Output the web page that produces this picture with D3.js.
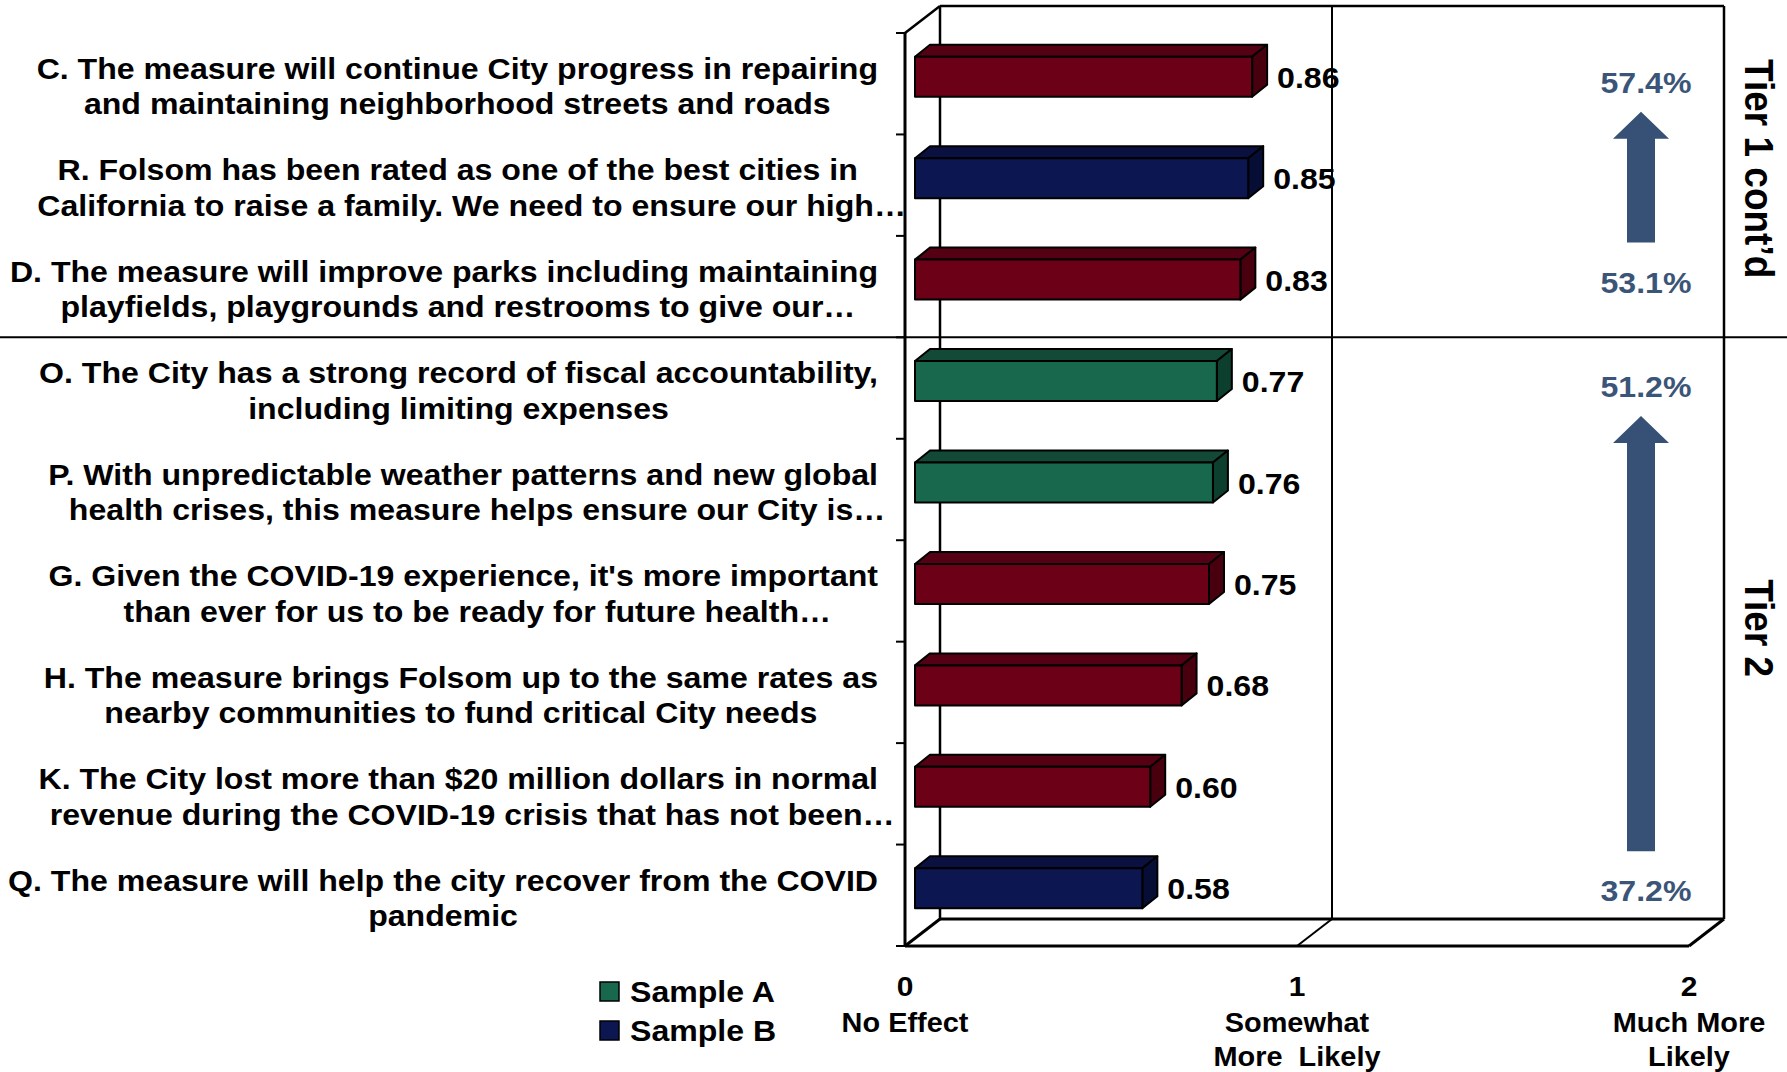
<!DOCTYPE html>
<html><head><meta charset="utf-8">
<script src="https://cdn.jsdelivr.net/npm/d3@7"></script>
<style>html,body{margin:0;padding:0;background:#fff;}svg{display:block;}</style>
</head><body>
<script>
// ---------- DATA ----------
const categories = ["C","R","D","O","P","G","H","K","Q"];
const labelLines = [
  ["C. The measure will continue City progress in repairing","and maintaining neighborhood streets and roads"],
  ["R. Folsom has been rated as one of the best cities in","California to raise a family. We need to ensure our high…"],
  ["D. The measure will improve parks including maintaining","playfields, playgrounds and restrooms to give our…"],
  ["O. The City has a strong record of fiscal accountability,","including limiting expenses"],
  ["P. With unpredictable weather patterns and new global","health crises, this measure helps ensure our City is…"],
  ["G. Given the COVID-19 experience, it's more important","than ever for us to be ready for future health…"],
  ["H. The measure brings Folsom up to the same rates as","nearby communities to fund critical City needs"],
  ["K. The City lost more than $20 million dollars in normal","revenue during the COVID-19 crisis that has not been…"],
  ["Q. The measure will help the city recover from the COVID","pandemic"]
];
const values = [0.86,0.85,0.83,0.77,0.76,0.75,0.68,0.60,0.58];
const sampleOf = ["Total","Sample B","Total","Sample A","Sample A","Total","Total","Total","Sample B"];
const seriesNames = ["Total","Sample A","Sample B"];
const legendNames = ["Sample A","Sample B"];
const xTicks = [0,1,2];
const xTickLabels = [["No Effect"],["Somewhat","More  Likely"],["Much More","Likely"]];
const tierNames = ["Tier 1 cont’d","Tier 2"];
const tierFirst = ["C","O"];
const tierLast = ["D","Q"];
const tierTopPct = ["57.4%","51.2%"];
const tierBottomPct = ["53.1%","37.2%"];

// ---------- STYLE ----------
const W = 1787, H = 1072;
const FONT = "'Liberation Sans', Arial, Helvetica, sans-serif";
const SX = 1.07; // horizontal stretch of text in the reference
const colors = {
  "Total":    {front:"#6C0017", top:"#560013", side:"#48000f"},
  "Sample A": {front:"#17684C", top:"#124A37", side:"#0C3F2D"},
  "Sample B": {front:"#0C1650", top:"#0A1140", side:"#070E36"}
};
const arrowColor = "#375176", pctColor = "#3B5579";

const svg = d3.select("body").append("svg").attr("width", W).attr("height", H);

const x = d3.scaleLinear().domain([0,2]).range([905,1689]);
const y = d3.scaleBand().domain(categories).range([33,946]).padding(0);
const DX = 35, DY = -27;      // wall depth
const BOX = 10, BOY = -7;     // bar front plane offset
const BDX = 15, BDY = -12;    // bar depth
const BH = 40;

function stext(parent, tx, ty, str, size, anchor, fill){
  const g = parent.append("g").attr("transform", `translate(${tx},${ty}) scale(${SX},1)`);
  const t = g.append("text").attr("x",0).attr("y",0)
    .attr("font-family", FONT).attr("font-weight","bold")
    .attr("font-size", size).attr("text-anchor", anchor||"start")
    .attr("fill", fill||"#000").text(str);
  return t;
}

const yTop = y.range()[0], yBot = y.range()[1];
const x0 = x(0), x2 = x(2);

// back wall
const wall = svg.append("g").attr("fill","none").attr("stroke","#000");
wall.append("line").attr("x1",x0+DX).attr("y1",yTop+DY).attr("x2",x0+DX).attr("y2",yBot+DY).attr("stroke-width",2.5);
wall.append("line").attr("x1",x0+DX).attr("y1",yTop+DY).attr("x2",x2+DX).attr("y2",yTop+DY).attr("stroke-width",2.5);
wall.append("line").attr("x1",x2+DX).attr("y1",yTop+DY).attr("x2",x2+DX).attr("y2",yBot+DY).attr("stroke-width",2.5);
wall.selectAll("line.grid").data(xTicks.filter(d=>d>0 && d<2)).enter().append("line").attr("class","grid")
  .attr("x1",d=>x(d)+DX).attr("x2",d=>x(d)+DX).attr("y1",yTop+DY).attr("y2",yBot+DY).attr("stroke-width",2);
// floor
wall.append("line").attr("x1",x0+DX).attr("y1",yBot+DY).attr("x2",x2+DX).attr("y2",yBot+DY).attr("stroke-width",3);
wall.append("line").attr("x1",x0).attr("y1",yBot).attr("x2",x2).attr("y2",yBot).attr("stroke-width",3);
wall.selectAll("line.diag").data(xTicks).enter().append("line").attr("class","diag")
  .attr("x1",d=>x(d)).attr("y1",yBot).attr("x2",d=>x(d)+DX).attr("y2",yBot+DY).attr("stroke-width",d=>d===1?2:3);
// front left axis
wall.append("line").attr("x1",x0).attr("y1",yTop).attr("x2",x0).attr("y2",yBot).attr("stroke-width",3);
wall.append("line").attr("x1",x0).attr("y1",yTop).attr("x2",x0+DX).attr("y2",yTop+DY).attr("stroke-width",2.5);
const tickYs = categories.map(c=>y(c)).concat([yBot]);
wall.selectAll("line.tick").data(tickYs).enter().append("line").attr("class","tick")
  .attr("x1",x0-9).attr("x2",x0).attr("y1",d=>d).attr("y2",d=>d).attr("stroke-width",2);

// bars
const data = categories.map((c,i)=>({c, v:values[i], s:sampleOf[i]}));
const bars = svg.append("g").attr("stroke","#000").attr("stroke-width",2).attr("stroke-linejoin","round");
data.forEach(d=>{
  const bx0 = x(0)+BOX, bx1 = x(d.v)+BOX;
  const by0 = y(d.c)+y.bandwidth()/2 + BOY - BH/2, by1 = by0 + BH;
  const col = colors[d.s];
  bars.append("polygon").attr("fill",col.top)
    .attr("points",[[bx0,by0],[bx0+BDX,by0+BDY],[bx1+BDX,by0+BDY],[bx1,by0]].map(p=>p.join(",")).join(" "));
  bars.append("polygon").attr("fill",col.side)
    .attr("points",[[bx1,by0],[bx1+BDX,by0+BDY],[bx1+BDX,by1+BDY],[bx1,by1]].map(p=>p.join(",")).join(" "));
  bars.append("rect").attr("fill",col.front).attr("x",bx0).attr("y",by0).attr("width",bx1-bx0).attr("height",BH);
  stext(svg, bx1+BDX+10, (by0+by1)/2 + 11, d.v.toFixed(2), 30, "start", "#000");
});

// tier separator
tierFirst.slice(1).forEach(c=>{
  svg.append("line").attr("x1",0).attr("x2",W).attr("y1",y(c)).attr("y2",y(c)).attr("stroke","#000").attr("stroke-width",2);
});

// category labels
const labG = svg.append("g");
const RIGHT = 878, LH = 35.5;
data.forEach((d,i)=>{
  const lines = labelLines[i];
  const cy = y(d.c)+y.bandwidth()/2 + 2;
  const n = lines.length;
  const nodes = lines.map((ln,k)=>stext(labG, 0, 0, ln, 30, "middle", "#000"));
  const widths = nodes.map((t,k)=>{
    const w = t.node().getComputedTextLength()*SX;
    return lines[k].endsWith("…") ? w - 28 : w;
  });
  const bw = d3.max(widths);
  const cx = RIGHT - bw/2;
  nodes.forEach((t,k)=>{
    const shift = lines[k].endsWith("…") ? 14 : 0;
    const ly = cy + (k - (n-1)/2)*LH + 11;
    d3.select(t.node().parentNode).attr("transform",`translate(${cx+shift},${ly}) scale(${SX},1)`);
  });
});

// x tick labels
xTicks.forEach((t,i)=>{
  stext(svg, x(t), 996, String(t), 28, "middle", "#000");
  xTickLabels[i].forEach((ln,k)=>{
    stext(svg, x(t), 1032 + k*34, ln, 27, "middle", "#000").attr("xml:space","preserve").style("white-space","pre");
  });
});

// legend
legendNames.forEach((nm,i)=>{
  const ly = 982 + i*39;
  svg.append("rect").attr("x",600).attr("y",ly).attr("width",19).attr("height",19)
    .attr("fill",colors[nm].front).attr("stroke","#000").attr("stroke-width",1.5);
  stext(svg, 630, ly+20, nm, 30, "start", "#000");
});

// tiers: arrows, percentages, names
const PX = 1646;
tierNames.forEach((nm,i)=>{
  const yt = y(tierFirst[i]) + y.bandwidth()/2;
  const yb = y(tierLast[i]) + y.bandwidth()/2;
  stext(svg, PX, yt - 2 + 11, tierTopPct[i], 30, "middle", pctColor);
  stext(svg, PX, yb - 5 + 11, tierBottomPct[i], 30, "middle", pctColor);
  const tip = yt + 28, hb = tip + 27, bot = yb - 44;
  svg.append("polygon").attr("fill",arrowColor)
    .attr("points",[[PX-5,tip],[PX+23,hb],[PX+9,hb],[PX+9,bot],[PX-19,bot],[PX-19,hb],[PX-33,hb]].map(p=>p.join(",")).join(" "));
  const regTop = i===0 ? 0 : y(tierFirst[i]);
  const regBot = i===tierNames.length-1 ? yBot+DY : y(tierFirst[i+1]);
  const cyT = (regTop+regBot)/2;
  svg.append("g").attr("transform",`translate(1745,${cyT}) rotate(90) scale(1,${1.1})`)
    .append("text").attr("text-anchor","middle").attr("font-family",FONT).attr("font-weight","bold")
    .attr("font-size",37).attr("fill","#000").text(nm);
});
</script>
</body></html>
